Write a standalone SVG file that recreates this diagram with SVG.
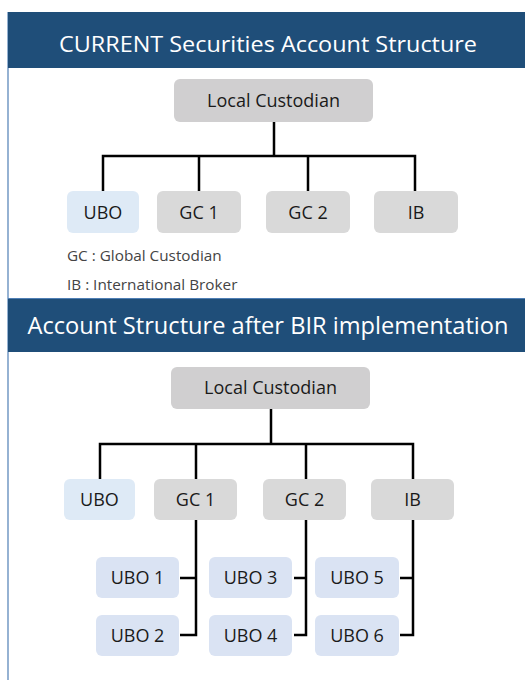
<svg xmlns="http://www.w3.org/2000/svg" width="525" height="680" viewBox="0 0 525 680">
<style>
.hdr{fill:#1f4e79}
.ht{font-family:"Open Sans","Noto Sans",sans-serif;fill:#ffffff;text-anchor:middle}
.t{font-family:"Open Sans","Noto Sans",sans-serif;font-size:18px;fill:#1a1a1a;text-anchor:middle}
.lg{font-family:"Open Sans","Noto Sans",sans-serif;font-size:15.3px;fill:#444;}
.lc{fill:#d0cfd0}
.g{fill:#d9d9d9}
.u0{fill:#deeaf6}
.u{fill:#dae3f3}
.c{fill:none;stroke:#000;stroke-width:2.5}
</style>
<rect x="0" y="0" width="525" height="680" fill="#fff"/>
<line x1="8" y1="12" x2="8" y2="680" stroke="#4f7fb5" stroke-width="1.2"/>
<line x1="8" y1="298.5" x2="525" y2="298.5" stroke="#4f7fb5" stroke-width="1.2"/>
<g id="header1"><rect class="hdr" x="8" y="12" width="517" height="56"/><text class="ht" x="268" y="52" font-size="22.5" textLength="418" lengthAdjust="spacingAndGlyphs">CURRENT Securities Account Structure</text></g>
<g id="header2"><rect class="hdr" x="8" y="299" width="517" height="53"/><text class="ht" x="268" y="334" font-size="23.5" textLength="481" lengthAdjust="spacingAndGlyphs">Account Structure after BIR implementation</text></g>
<g id="connectors">
<path class="c" d="M274 122V156M103 191V156H415V191M199 156V191M308 156V191"/>
<path class="c" d="M271 409V444M100 479V444H413V479M196 444V479M306 444V479"/>
<path class="c" d="M196 520V635H180M196 578H180M306 520V635H294M306 578H294M413 520V635H400M413 578H400"/>
</g>
<g id="legend"><text class="lg" x="67" y="261">GC : Global Custodian</text><text class="lg" x="67" y="290">IB : International Broker</text></g>
<g id="lc1"><rect class="lc" x="174" y="79" width="199" height="43" rx="6"/><text class="t" x="273.5" y="106.5">Local Custodian</text></g>
<g id="ubo_a"><rect class="u0" x="67" y="191" width="72" height="42" rx="6"/><text class="t" x="103" y="218.5">UBO</text></g>
<g id="gc1_a"><rect class="g" x="157" y="191" width="84" height="42" rx="6"/><text class="t" x="199" y="218.5">GC 1</text></g>
<g id="gc2_a"><rect class="g" x="266" y="191" width="84" height="42" rx="6"/><text class="t" x="308" y="218.5">GC 2</text></g>
<g id="ib_a"><rect class="g" x="374" y="191" width="84" height="42" rx="6"/><text class="t" x="416" y="218.5">IB</text></g>
<g id="lc2"><rect class="lc" x="171" y="367" width="199" height="42" rx="6"/><text class="t" x="270.5" y="394">Local Custodian</text></g>
<g id="ubo_b"><rect class="u0" x="64" y="479" width="71" height="41" rx="6"/><text class="t" x="99.5" y="505.5">UBO</text></g>
<g id="gc1_b"><rect class="g" x="154" y="479" width="83" height="41" rx="6"/><text class="t" x="195.5" y="505.5">GC 1</text></g>
<g id="gc2_b"><rect class="g" x="263" y="479" width="83" height="41" rx="6"/><text class="t" x="304.5" y="505.5">GC 2</text></g>
<g id="ib_b"><rect class="g" x="371" y="479" width="83" height="41" rx="6"/><text class="t" x="412.5" y="505.5">IB</text></g>
<g id="ubo1"><rect class="u" x="96" y="557" width="83" height="41" rx="6"/><text class="t" x="137.5" y="584">UBO 1</text></g>
<g id="ubo2"><rect class="u" x="96" y="615" width="83" height="41" rx="6"/><text class="t" x="137.5" y="642">UBO 2</text></g>
<g id="ubo3"><rect class="u" x="209" y="557" width="83" height="41" rx="6"/><text class="t" x="250.5" y="584">UBO 3</text></g>
<g id="ubo4"><rect class="u" x="209" y="615" width="83" height="41" rx="6"/><text class="t" x="250.5" y="642">UBO 4</text></g>
<g id="ubo5"><rect class="u" x="315" y="557" width="84" height="41" rx="6"/><text class="t" x="357" y="584">UBO 5</text></g>
<g id="ubo6"><rect class="u" x="315" y="615" width="84" height="41" rx="6"/><text class="t" x="357" y="642">UBO 6</text></g>
</svg>
